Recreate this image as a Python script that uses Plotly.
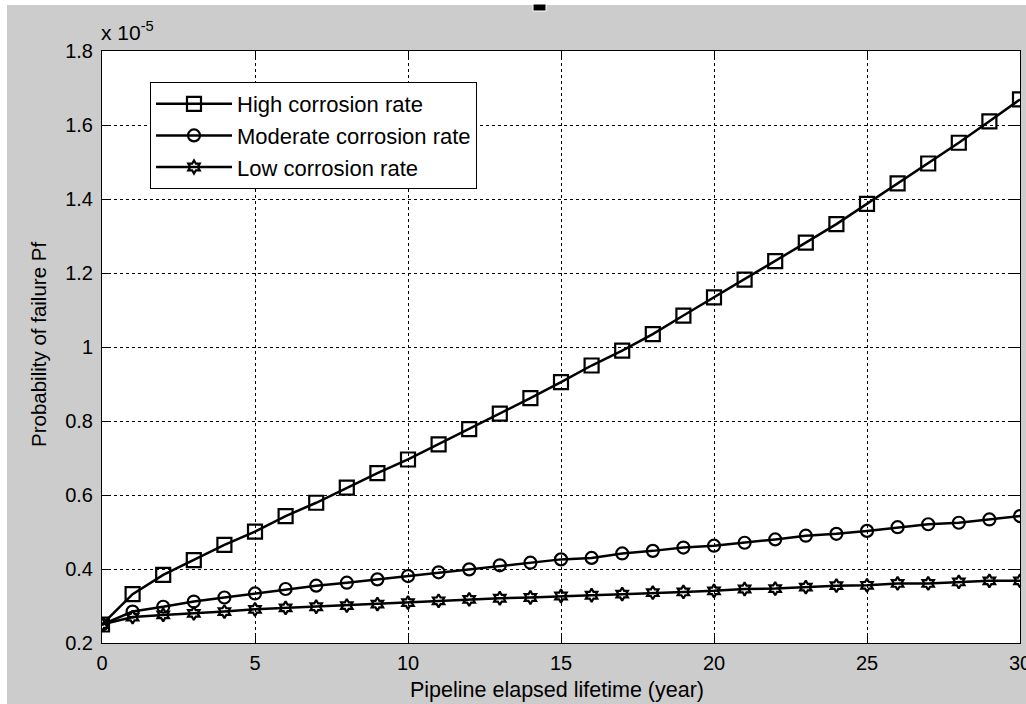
import plotly.graph_objects as go

# Elapsed lifetime of the pipeline, years
years = list(range(0, 31))

# Probability of failure, in units of 1e-5
pf_high = [0.250, 0.332, 0.384, 0.424, 0.465, 0.501, 0.543, 0.579, 0.620, 0.659,
           0.696, 0.737, 0.778, 0.820, 0.862, 0.905, 0.950, 0.990, 1.035, 1.085,
           1.134, 1.182, 1.232, 1.282, 1.332, 1.387, 1.442, 1.496, 1.552, 1.610,
           1.669]
pf_moderate = [0.250, 0.285, 0.298, 0.312, 0.323, 0.334, 0.346, 0.355, 0.363, 0.372,
               0.381, 0.391, 0.399, 0.410, 0.417, 0.426, 0.430, 0.442, 0.449, 0.458,
               0.463, 0.471, 0.480, 0.490, 0.495, 0.503, 0.513, 0.521, 0.525, 0.534,
               0.543]
pf_low = [0.250, 0.270, 0.276, 0.280, 0.285, 0.291, 0.295, 0.298, 0.301, 0.305,
          0.309, 0.314, 0.318, 0.321, 0.323, 0.327, 0.329, 0.332, 0.336, 0.338,
          0.341, 0.346, 0.347, 0.351, 0.355, 0.356, 0.361, 0.361, 0.365, 0.368,
          0.368]

series_names = ["High corrosion rate", "Moderate corrosion rate", "Low corrosion rate"]

x_ticks = [0, 5, 10, 15, 20, 25, 30]
y_ticks = [0.2, 0.4, 0.6, 0.8, 1.0, 1.2, 1.4, 1.6, 1.8]
y_tick_text = ["0.2", "0.4", "0.6", "0.8", "1", "1.2", "1.4", "1.6", "1.8"]

W, H = 1026, 704
L, R, T, B = 102, 6, 51, 61
PW, PH = W - L - R, H - T - B

FONT = "Arial, Liberation Sans, sans-serif"
GRAY = "#CCCCCC"


def px_x(px):
    return (px - L) / PW


def px_y(py):
    return (H - B - py) / PH


fig = go.Figure()

styles = [
    dict(symbol="square-open", size=14),
    dict(symbol="circle-open", size=12),
    dict(symbol="hexagram-open", size=10),
]
for name, vals, st in zip(series_names, [pf_high, pf_moderate, pf_low], styles):
    fig.add_trace(go.Scatter(
        x=years, y=vals, name=name, mode="lines+markers",
        line=dict(color="black", width=2.5),
        marker=dict(symbol=st["symbol"], size=st["size"], color="black",
                    line=dict(color="black", width=2.2)),
    ))

axis_common = dict(
    showline=True, linecolor="black", linewidth=1, mirror="ticks",
    ticks="inside", ticklen=9, tickcolor="black", tickwidth=1,
    showgrid=True, gridcolor="black", gridwidth=1, griddash="3px,3px",
    zeroline=False, ticklabeloverflow="allow", automargin=False,
    tickfont=dict(family=FONT, size=20, color="black"),
)

fig.update_xaxes(range=[0, 30], tickvals=x_ticks, ticklabelstandoff=2, **axis_common)
fig.update_yaxes(range=[0.2, 1.8], tickvals=y_ticks, ticktext=y_tick_text,
                 ticklabelstandoff=4, **axis_common)

fig.update_layout(
    width=W, height=H,
    margin=dict(l=L, r=R, t=T, b=B, pad=0, autoexpand=False),
    paper_bgcolor=GRAY, plot_bgcolor="white",
    font=dict(family=FONT, color="black"),
    showlegend=True,
    legend=dict(
        x=px_x(150), y=px_y(82), xanchor="left", yanchor="top",
        bgcolor="white", bordercolor="black", borderwidth=1,
        font=dict(family=FONT, size=22, color="black"),
        itemwidth=76, tracegroupgap=0,
    ),
    shapes=[
        # white strips along the left and top edges of the figure window
        dict(type="rect", xref="paper", yref="paper",
             x0=px_x(0), x1=px_x(7), y0=px_y(H), y1=px_y(0),
             fillcolor="white", line=dict(width=0)),
        dict(type="rect", xref="paper", yref="paper",
             x0=px_x(0), x1=px_x(W), y0=px_y(5), y1=px_y(0),
             fillcolor="white", line=dict(width=0)),
        # clipped title glyph at the top edge
        dict(type="rect", xref="paper", yref="paper",
             x0=px_x(533), x1=px_x(546), y0=px_y(11), y1=px_y(4),
             fillcolor="black", line=dict(color="white", width=1)),
    ],
    annotations=[
        dict(text="x 10<sup>-5</sup>", xref="paper", yref="paper",
             x=px_x(99), y=px_y(46), xanchor="left", yanchor="bottom",
             showarrow=False, font=dict(family=FONT, size=21, color="black")),
        dict(text="Pipeline elapsed lifetime (year)", xref="paper", yref="paper",
             x=px_x(557), y=px_y(690), xanchor="center", yanchor="middle",
             showarrow=False, font=dict(family=FONT, size=21.5, color="black")),
        dict(text="Probability of failure Pf", xref="paper", yref="paper",
             x=px_x(38), y=px_y(345), xanchor="center", yanchor="middle",
             textangle=-90, showarrow=False,
             font=dict(family=FONT, size=20.5, color="black")),
    ],
)

fig.write_html("out.html")
